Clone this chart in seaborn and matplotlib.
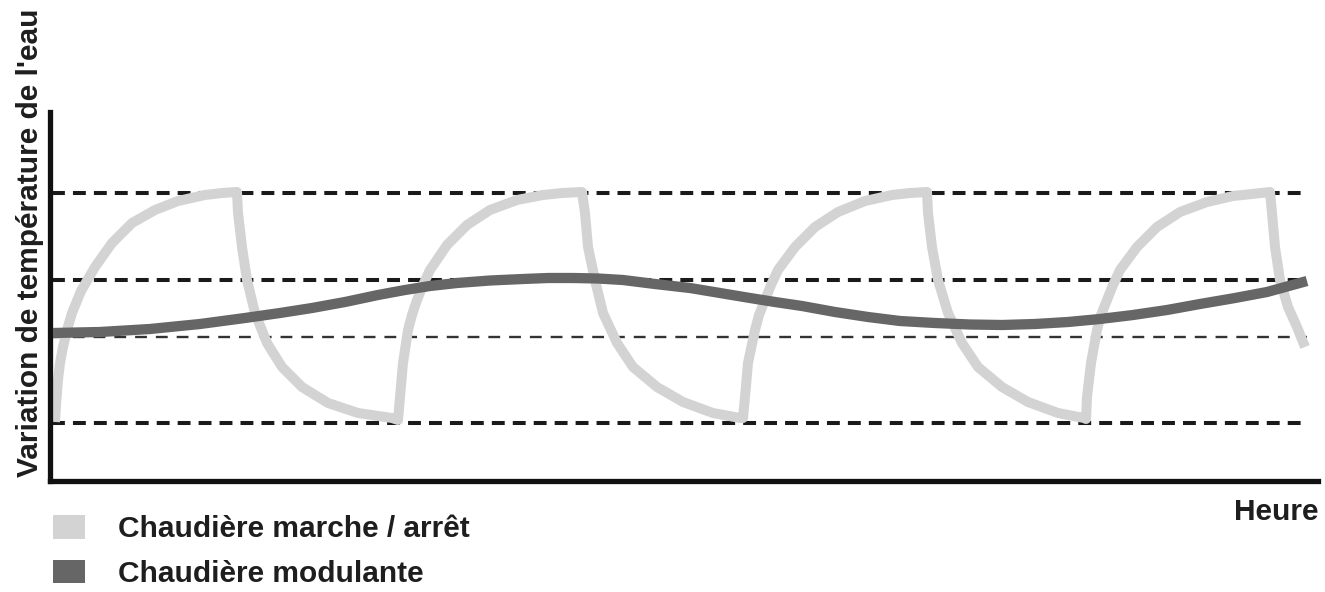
import matplotlib
matplotlib.use("Agg")
import matplotlib.pyplot as plt
import seaborn as sns
import pandas as pd
from matplotlib.patches import Patch

# ---- data (arbitrary time units / temperature units) ----
onoff_time = [55, 56, 58, 60, 63, 67, 72, 81, 95, 112, 132, 155, 178, 205, 222, 237,
              238, 242, 247, 255, 267, 282, 302, 328, 358, 392,
              398, 400, 403, 408, 412, 417, 423, 430, 447, 467, 490, 517, 543, 562, 582,
              585, 588, 595, 603, 617, 633, 657, 683, 713, 740,
              743, 745, 748, 755, 759, 765, 771, 778, 795, 815, 838, 865, 892, 910, 927,
              928, 932, 938, 948, 962, 978, 1002, 1028, 1058, 1084,
              1086, 1087, 1091, 1097, 1101, 1107, 1113, 1120, 1137, 1157, 1180, 1207, 1233, 1252, 1270,
              1272, 1275, 1280, 1288, 1297, 1305]
onoff_temp = [61, 78, 103, 120, 136, 153, 170, 192, 216, 240, 260, 273, 282, 288, 290, 291,
              270, 236, 203, 170, 140, 116, 96, 80, 70, 65,
              63, 86, 120, 153, 168, 183, 198, 213, 238, 258, 273, 283, 288, 290, 291,
              270, 236, 203, 170, 140, 116, 96, 81, 70, 65,
              65, 86, 120, 153, 168, 183, 198, 213, 236, 256, 271, 282, 288, 290, 291,
              270, 236, 203, 170, 140, 116, 96, 81, 70, 65,
              64, 86, 120, 153, 168, 183, 198, 213, 236, 256, 271, 281, 287, 289, 291,
              270, 236, 203, 176, 156, 136]

modul_time = [53, 100, 150, 200, 245, 280, 312, 345, 378, 405, 430, 457, 490, 523,
              548, 573, 598, 623, 655, 690, 720, 750, 775, 802, 835, 868, 900, 935,
              970, 1002, 1035, 1068, 1100, 1133, 1167, 1200, 1235, 1267, 1307]
modul_temp = [150, 151, 154, 159, 165, 170, 175, 181, 188, 193, 197, 200, 202.5, 204,
              205, 205, 204.5, 203, 199, 195, 190, 185, 181, 177, 171, 166, 162, 160,
              158.5, 158, 159, 161, 164, 168, 173, 179, 185, 191, 202]

ref_levels = [290, 203, 146, 60]
ref_heavy = [True, True, False, True]

series_labels = ["Chaudière marche / arrêt", "Chaudière modulante"]
series_colors = ["#d3d3d3", "#666666"]
y_label = "Variation de température de l'eau"
x_label = "Heure"

# ---- style ----
sns.set_theme(style="white")
plt.rcParams['font.family'] = ['Liberation Sans', 'DejaVu Sans']
plt.rcParams['font.weight'] = 'bold'

W, H = 1325, 592
fig = plt.figure(figsize=(W / 100, H / 100), dpi=100)
ax = fig.add_axes([50 / W, 1 - 481 / H, (1318 - 50) / W, (481 - 112) / H])

for lvl, heavy in zip(ref_levels, ref_heavy):
    if heavy:
        ax.hlines(lvl, 52, 1307, colors="#1a1a1a", linestyles=(0, (3.2, 2.0)),
                  linewidth=2.9, zorder=1)
    else:
        ax.hlines(lvl, 52, 1307, colors="#333333", linestyles=(0, (5.0, 3.8)),
                  linewidth=1.7, zorder=1)

df1 = pd.DataFrame({"t": onoff_time, "v": onoff_temp})
df2 = pd.DataFrame({"t": modul_time, "v": modul_temp})
sns.lineplot(data=df1, x="t", y="v", sort=False, estimator=None, ax=ax,
             color=series_colors[0], linewidth=7.2, zorder=2,
             solid_capstyle="butt", solid_joinstyle="round")
sns.lineplot(data=df2, x="t", y="v", sort=False, estimator=None, ax=ax,
             color=series_colors[1], linewidth=7.4, zorder=3,
             solid_capstyle="butt", solid_joinstyle="round")

ax.set_xlim(50, 1318)
ax.set_ylim(2, 371)
ax.set_xticks([])
ax.set_yticks([])
ax.set_xlabel("")
ax.set_ylabel("")
for s in ["top", "right"]:
    ax.spines[s].set_visible(False)
for s in ["left", "bottom"]:
    ax.spines[s].set_color("#111111")
    ax.spines[s].set_linewidth(3.8)

fs = 21.5
fig.text(30 / W, 1 - 243 / H, y_label, rotation=90, ha="center", va="center",
         fontsize=fs, fontweight="bold", color="#1e1e1e")
fig.text(1318 / W, 1 - 512 / H, x_label, ha="right", va="center",
         fontsize=fs, fontweight="bold", color="#1e1e1e")

handles = [Patch(facecolor=c, edgecolor="none") for c in series_colors]
fig.legend(handles, series_labels, loc="upper left", bbox_to_anchor=(53 / W, 1 - 515 / H),
           frameon=False, handlelength=1.07, handleheight=0.84,
           handletextpad=1.1, labelspacing=0.55, borderpad=0, borderaxespad=0,
           labelcolor="#1e1e1e", prop={"weight": "bold", "size": fs})

fig.savefig("out.png", dpi=100, facecolor="white")
